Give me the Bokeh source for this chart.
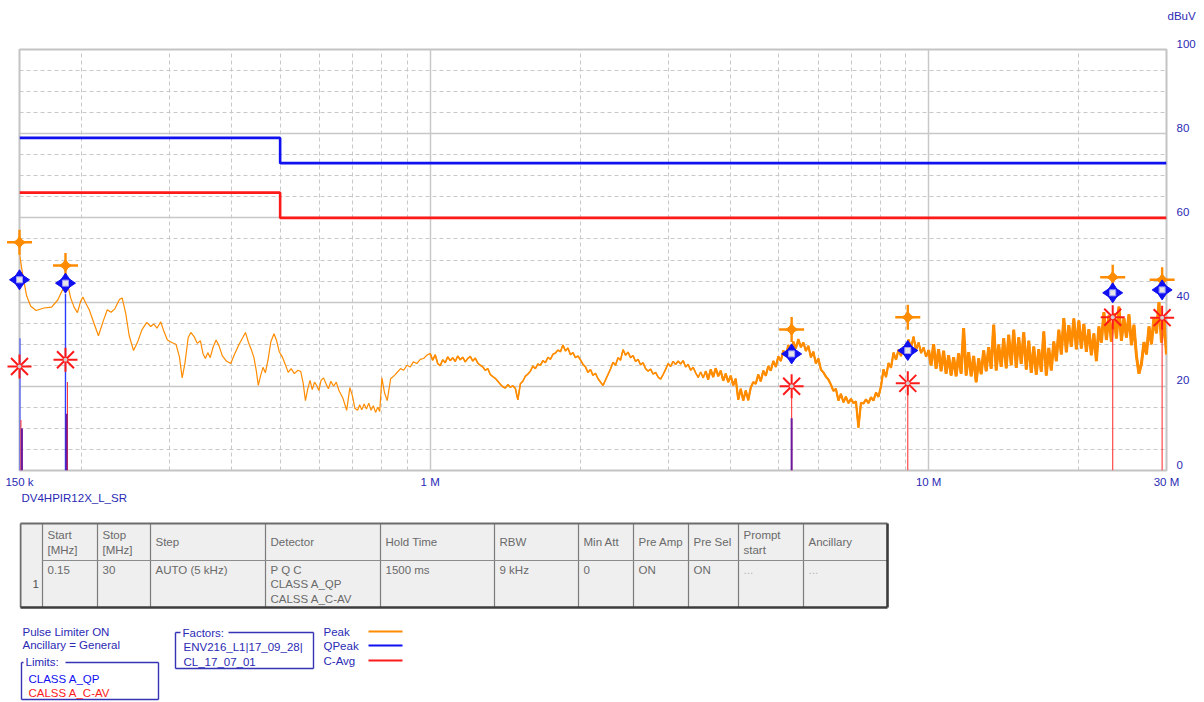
import numpy as np
from bokeh.plotting import figure
from bokeh.layouts import column
from bokeh.models import Range1d, FixedTicker
from bokeh.core.properties import value
from bokeh.embed import file_html
from bokeh.resources import INLINE

# ---------------- data ----------------
# Peak trace, 150 kHz .. 1 MHz (frequency in MHz, level in dBuV)
peak_lo_freq_mhz = [0.150, 0.152, 0.155, 0.158, 0.162, 0.168, 0.174, 0.179, 0.184, 0.187,
                    0.190, 0.193, 0.196, 0.199, 0.201, 0.204, 0.207, 0.211, 0.216, 0.221,
                    0.225, 0.229, 0.233, 0.238, 0.241, 0.245, 0.249, 0.254, 0.259, 0.264,
                    0.270, 0.275, 0.279, 0.283, 0.288, 0.292, 0.297, 0.303, 0.309, 0.314,
                    0.318, 0.322, 0.327, 0.331, 0.336, 0.341, 0.346, 0.350, 0.354, 0.358,
                    0.362, 0.367, 0.372, 0.377, 0.383, 0.390, 0.398, 0.405, 0.413, 0.420,
                    0.426, 0.432, 0.438, 0.443, 0.448, 0.452, 0.457, 0.462, 0.467, 0.473,
                    0.479, 0.486, 0.492, 0.498, 0.505, 0.512, 0.519, 0.526, 0.534, 0.543,
                    0.550, 0.556, 0.562, 0.568, 0.574, 0.580, 0.586, 0.592, 0.598, 0.604,
                    0.611, 0.618, 0.625, 0.632, 0.640, 0.648, 0.656, 0.668, 0.680, 0.690,
                    0.698, 0.706, 0.715, 0.722, 0.729, 0.737, 0.745, 0.753, 0.761, 0.769,
                    0.777, 0.785, 0.792, 0.800, 0.810, 0.820, 0.833, 0.848, 0.860, 0.872,
                    0.885, 0.898, 0.912, 0.925, 0.940, 0.955, 0.970, 0.985]
peak_lo_dbuv = [51.5, 47.0, 41.5, 39.0, 38.0, 38.6, 38.8, 40.5, 43.5, 44.6,
                41.0, 38.8, 37.5, 40.2, 41.2, 39.6, 38.2, 35.4, 32.0, 35.6,
                38.2, 37.6, 38.4, 40.6, 41.0, 37.3, 32.0, 28.5, 30.6, 33.4,
                35.2, 34.2, 34.8, 33.8, 35.3, 33.2, 31.0, 30.4, 30.0, 27.0,
                22.0, 25.4, 31.6, 32.8, 31.8, 30.2, 30.8, 27.8, 26.6, 28.0,
                26.8, 29.4, 31.0, 29.6, 27.2, 26.0, 25.4, 27.6, 29.8, 31.4,
                32.8, 30.4, 28.6, 26.8, 23.6, 20.2, 22.6, 24.5, 23.2, 26.4,
                30.6, 32.5, 30.8, 28.2, 27.0, 25.2, 23.3, 24.2, 23.0, 23.8,
                23.5, 20.8, 16.6, 19.4, 21.4, 19.2, 21.0, 20.2, 19.0, 21.4,
                22.0, 20.6, 19.4, 21.2, 20.0, 21.0, 19.0, 17.2, 14.3, 19.7,
                17.8, 14.8, 14.3, 15.6, 14.4, 15.8, 14.6, 16.0, 14.3, 15.4,
                13.8, 15.0, 14.0, 22.0, 18.4, 16.6, 21.8, 22.6, 23.4, 24.2,
                23.8, 25.0, 24.6, 25.8, 25.4, 26.4, 26.6, 27.4]
# Peak trace, 1 MHz .. 30 MHz sweep points (log-uniform steps), level in dBuV
peak_hi_dbuv = [27.8, 26.2, 27.5, 25.4, 24.9, 26.3, 25.6, 27.0, 26.1, 26.8,
                25.9, 27.2, 26.3, 26.9, 25.8, 26.6, 27.1, 26.0, 26.7, 25.5,
                25.0, 24.6, 23.8, 24.2, 22.8, 22.3, 21.9, 21.2, 20.5, 19.9,
                19.6, 20.4, 19.8, 20.1, 19.5, 16.8, 20.6, 21.2, 22.4, 22.9,
                23.6, 24.8, 24.2, 25.3, 25.0, 26.1, 25.6, 26.9, 26.4, 27.6,
                27.9, 28.6, 28.2, 29.8, 28.4, 29.1, 27.5, 28.0, 26.8, 27.2,
                26.3, 25.2, 24.6, 23.3, 24.0, 22.6, 23.1, 21.8, 21.0, 20.2,
                21.5, 22.8, 24.1, 25.7, 25.0, 26.8, 26.2, 28.7, 27.4, 28.1,
                26.8, 27.3, 25.9, 26.4, 25.1, 25.6, 24.2, 23.6, 24.1, 22.9,
                23.3, 22.2, 21.7, 22.8, 24.0, 25.4, 24.7, 25.9, 25.2, 26.0,
                25.3, 26.1, 24.6, 25.2, 23.8, 24.5, 23.2, 22.1, 23.4, 22.0,
                23.6, 21.6, 24.0, 22.2, 24.3, 22.4, 23.7, 21.3, 23.0, 21.0,
                22.5, 20.2, 21.8, 16.8, 19.4, 16.6, 19.0, 16.7, 19.7, 21.0,
                20.6, 22.8, 21.2, 23.7, 22.5, 24.8, 23.7, 26.0, 24.6, 27.1,
                26.0, 28.5, 27.3, 29.8, 28.2, 30.6, 29.0, 31.2, 29.3, 30.4,
                28.4, 29.6, 26.9, 28.2, 25.4, 26.6, 24.0, 23.3, 22.3, 21.6,
                20.4, 18.9, 19.4, 16.6, 18.2, 16.2, 17.5, 16.0, 17.0, 16.0,
                16.4, 10.2, 16.1, 15.9, 16.9, 16.0, 17.4, 16.6, 18.5, 17.5,
                20.0, 24.0, 22.2, 25.5, 24.4, 28.0, 26.3, 28.7, 27.2, 29.4,
                28.2, 31.1, 29.1, 31.8, 28.6, 30.4, 27.9, 29.2, 27.0, 28.6,
                25.0, 30.0, 24.2, 28.8, 23.6, 28.4, 23.0, 27.4, 22.6, 26.9,
                22.4, 27.8, 23.0, 33.8, 22.6, 28.1, 22.4, 27.2, 21.0, 26.6,
                22.9, 28.5, 23.6, 29.3, 24.2, 34.6, 23.8, 29.9, 24.6, 31.4,
                24.3, 32.2, 25.0, 33.4, 24.4, 31.6, 25.3, 32.8, 24.0, 30.8,
                23.2, 29.4, 22.8, 28.8, 23.5, 33.0, 22.6, 29.1, 23.8, 30.6,
                26.0, 33.4, 27.6, 36.2, 28.1, 34.5, 29.4, 36.1, 28.8, 35.6,
                29.0, 34.8, 28.2, 33.6, 27.4, 32.5, 26.0, 34.2, 30.4, 37.6,
                31.0, 36.8, 30.6, 37.4, 31.4, 38.9, 30.8, 36.2, 31.6, 37.1,
                29.8, 34.6, 27.2, 23.0, 25.4, 30.5, 27.6, 34.2, 30.0, 36.4,
                32.6, 40.0, 30.4, 36.2, 27.6]
peak_hi_start_mhz = 1.0
peak_hi_stop_mhz = 30.0

# Limit lines (step at 500 kHz)
limit_freq_mhz = [0.15, 0.5, 30.0]
qp_limit_dbuv = [79, 73, 73]
av_limit_dbuv = [66, 60, 60]

# Final measurement markers
final_freq_mhz = [0.150, 0.1855, 5.31, 9.08, 23.4, 29.4]
final_peak_dbuv = [54.2, 48.7, 33.5, 36.4, 45.9, 45.3]
final_qp_dbuv = [45.3, 44.5, 27.7, 28.5, 42.2, 42.9]
final_av_dbuv = [24.7, 26.3, 20.0, 20.7, 36.4, 36.3]

# Vertical result bars
qp_bar_freq_mhz = [0.1502, 0.1855]
qp_bar_dbuv = [31.4, 42.0]
av_bar_freq_mhz = [0.1510, 0.1872, 5.31, 9.08, 23.4, 29.4]
av_bar_dbuv = [12.0, 21.0, 20.0, 20.7, 36.4, 36.3]
dark_bar_freq_mhz = [0.1517, 0.1864, 5.31]
dark_bar_dbuv = [10.0, 13.5, 12.4]

# Axes
x_ticks = [0.15, 1, 10, 30]
x_tick_labels = ["150 k", "1 M", "10 M", "30 M"]
y_ticks = [0, 20, 40, 60, 80, 100]
y_unit = "dBuV"
trace_name = "DV4HPIR12X_L_SR"

# Settings table
table_headers = ["", "Start\n[MHz]", "Stop\n[MHz]", "Step", "Detector", "Hold Time", "RBW",
                 "Min Att", "Pre Amp", "Pre Sel", "Prompt\nstart", "Ancillary"]
table_row = ["1", "0.15", "30", "AUTO (5 kHz)", "P Q C\nCLASS A_QP\nCALSS A_C-AV", "1500 ms",
             "9 kHz", "0", "ON", "ON", "...", "..."]

# Info / legend block
info_lines = ["Pulse Limiter ON", "Ancillary = General"]
limits_title = "Limits:"
limits_entries = ["CLASS A_QP", "CALSS A_C-AV"]
factors_title = "Factors:"
factor_entries = ["ENV216_L1|17_09_28|", "CL_17_07_01"]
legend_names = ["Peak", "QPeak", "C-Avg"]

# ---------------- style ----------------
FONT = value("Liberation Sans")
ORANGE = "#ff8c00"
BLUE = "#1010f0"
RED = "#ff1a1a"
TXT_BLUE = "#2a2ab4"
GRID = "#c8c8c8"
FRAME_L, FRAME_W, BORDER_R = 19, 1147, 36

# ---------------- main chart ----------------
p = figure(frame_width=FRAME_W, frame_height=421, x_axis_type="log",
           x_range=Range1d(0.15, 30), y_range=Range1d(0, 100),
           y_axis_location=None, output_backend="svg", toolbar_location=None,
           min_border_left=FRAME_L, min_border_right=BORDER_R, min_border_top=49,
           min_border_bottom=22)
p.outline_line_color = "#c4c4c4"
p.outline_line_width = 2
p.background_fill_color = "white"

x_minor = [0.2, 0.3, 0.4, 0.5, 0.6, 0.7, 0.8, 0.9, 2, 3, 4, 5, 6, 7, 8, 9, 20]
p.xgrid.ticker = FixedTicker(ticks=[1, 10], minor_ticks=x_minor)
p.xgrid.grid_line_color = GRID
p.xgrid.grid_line_width = 1.5
p.xgrid.minor_grid_line_color = GRID
p.xgrid.minor_grid_line_dash = "4 3"
p.ygrid.ticker = FixedTicker(ticks=[20, 40, 60, 80],
                             minor_ticks=[v for v in range(5, 100, 5) if v % 20])
p.ygrid.grid_line_color = GRID
p.ygrid.grid_line_width = 1.5
p.ygrid.minor_grid_line_color = GRID
p.ygrid.minor_grid_line_dash = "4 3"

ax = p.xaxis[0]
ax.ticker = FixedTicker(ticks=x_ticks)
ax.major_label_overrides = {t: l for t, l in zip(x_ticks, x_tick_labels)}
ax.axis_line_color = None
ax.major_tick_line_color = None
ax.minor_tick_line_color = None
ax.major_tick_out = 0
ax.minor_tick_out = 0
ax.major_label_standoff = 5
ax.major_label_text_font = "Liberation Sans"
ax.major_label_text_font_size = "11.5px"
ax.major_label_text_color = TXT_BLUE

# y tick labels on the right (drawn slightly above their grid line)
p.text(x=[30] * len(y_ticks), y=y_ticks, text=[str(v) for v in y_ticks],
       x_offset=10, y_offset=-6, text_font=FONT, text_font_size="11.5px",
       text_color=TXT_BLUE, text_align="left", text_baseline="middle", level="overlay")
p.text(x=[30], y=[100], text=[y_unit], x_offset=1, y_offset=-34, text_font=FONT,
       text_font_size="11.5px", text_color=TXT_BLUE, text_align="left",
       text_baseline="middle", level="overlay")

# limits
p.step(limit_freq_mhz, qp_limit_dbuv, mode="after", line_color=BLUE, line_width=2.6)
p.step(limit_freq_mhz, av_limit_dbuv, mode="after", line_color=RED, line_width=2.6)

# peak trace (the dense sweep above ~3 MHz is drawn heavier, as in the receiver plot)
hi_freq = np.geomspace(peak_hi_start_mhz, peak_hi_stop_mhz, len(peak_hi_dbuv))
peak_freq = np.concatenate([peak_lo_freq_mhz, hi_freq])
peak_level = np.concatenate([peak_lo_dbuv, peak_hi_dbuv])
p.line(peak_freq, peak_level, line_color=ORANGE, line_width=1.2)
p.line(hi_freq, peak_hi_dbuv, line_color=ORANGE, line_width=1.6)
p.line(hi_freq[110:], peak_hi_dbuv[110:], line_color=ORANGE, line_width=2.2)
p.line(hi_freq[199:], peak_hi_dbuv[199:], line_color=ORANGE, line_width=3.0)

# vertical result bars
p.segment(x0=qp_bar_freq_mhz, y0=[0] * len(qp_bar_dbuv), x1=qp_bar_freq_mhz, y1=qp_bar_dbuv,
          line_color="#2a3cff", line_width=1.4)
p.segment(x0=av_bar_freq_mhz, y0=[0] * len(av_bar_dbuv), x1=av_bar_freq_mhz, y1=av_bar_dbuv,
          line_color="#ff3a3a", line_width=1.1)
p.segment(x0=dark_bar_freq_mhz, y0=[0] * len(dark_bar_dbuv), x1=dark_bar_freq_mhz, y1=dark_bar_dbuv,
          line_color="#6a1a9a", line_width=2)

# markers: peak (orange 4-point star)
p.scatter(final_freq_mhz, final_peak_dbuv, marker="cross", size=25, line_color=ORANGE,
          line_width=2.4, level="overlay")
p.scatter(final_freq_mhz, final_peak_dbuv, marker="diamond", size=12, fill_color=ORANGE,
          line_color=ORANGE, level="overlay")
p.scatter(final_freq_mhz, final_peak_dbuv, marker="diamond", size=12, angle=np.pi / 2,
          fill_color=ORANGE, line_color=ORANGE, level="overlay")
# markers: quasi-peak (blue compass)
p.scatter(final_freq_mhz, final_qp_dbuv, marker="diamond", size=20, fill_color=BLUE,
          line_color=BLUE, level="overlay")
p.scatter(final_freq_mhz, final_qp_dbuv, marker="diamond", size=20, angle=np.pi / 2,
          fill_color=BLUE, line_color=BLUE, level="overlay")
p.scatter(final_freq_mhz, final_qp_dbuv, marker="square", size=6, fill_color="#e6e6e6",
          line_color="#9a9aff", line_width=1, level="overlay")
# markers: C-average (red asterisk)
p.scatter(final_freq_mhz, final_av_dbuv, marker="asterisk", size=24, line_color=RED,
          line_width=2, level="overlay")
p.scatter(final_freq_mhz, final_av_dbuv, marker="circle", size=4, fill_color="#d0d0d0",
          line_color=None, level="overlay")

# ---------------- lower panel (table + info), coordinates in page pixels ----------------
TOP, BOT = 492, 702
q = figure(frame_width=FRAME_W, frame_height=BOT - TOP,
           x_range=Range1d(FRAME_L, FRAME_L + FRAME_W), y_range=Range1d(BOT, TOP),
           x_axis_location=None, y_axis_location=None, output_backend="svg",
           toolbar_location=None, min_border_left=FRAME_L, min_border_right=BORDER_R,
           min_border_top=0, min_border_bottom=0)
q.outline_line_color = None
q.grid.visible = False

def txt(xs, ys, texts, color, size="11.5px", align="left"):
    q.text(x=xs, y=ys, text=texts, text_font=FONT, text_font_size=size, text_color=color,
           text_align=align, text_baseline="middle")

txt([21], [497], [trace_name], TXT_BLUE)

# table
col_edges = [20, 42, 97, 150, 265, 380, 494, 578, 633, 688, 738, 803, 887]
t_top, t_mid, t_bot = 523, 560, 607
q.quad(left=[col_edges[0]], right=[col_edges[-1]], top=[t_top], bottom=[t_bot],
       fill_color="#efefef", line_color=None)
q.segment(x0=col_edges[1:-1], y0=[t_top] * (len(col_edges) - 2), x1=col_edges[1:-1],
          y1=[t_bot] * (len(col_edges) - 2), line_color="#7c7c7c", line_width=1.2)
q.segment(x0=[col_edges[1]], y0=[t_mid], x1=[col_edges[-1]], y1=[t_mid],
          line_color="#8c8c8c", line_width=1)
q.segment(x0=[col_edges[0], col_edges[0]], y0=[t_top, t_top], x1=[col_edges[-1], col_edges[0]],
          y1=[t_top, t_bot], line_color="#6c6c6c", line_width=2)
q.segment(x0=[col_edges[-1], col_edges[0]], y0=[t_top, t_bot], x1=[col_edges[-1], col_edges[-1]],
          y1=[t_bot, t_bot], line_color="#3c3c3c", line_width=2.6)

hx, hy, ht = [], [], []
for i, h in enumerate(table_headers):
    lines = h.split("\n") if h else []
    n = len(lines)
    for k, ln in enumerate(lines):
        hx.append(col_edges[i] + 5)
        hy.append((t_top + t_mid) / 2 - 7.5 * (n - 1) + 15 * k)
        ht.append(ln)
txt(hx, hy, ht, "#6a6a6a", size="11.5px")

rx, ry, rt, rc = [], [], [], []
for i, v in enumerate(table_row):
    if i == 0:
        rx.append(col_edges[0] + 12); ry.append((t_mid + t_bot) / 2); rt.append(v); rc.append("#505050")
        continue
    for k, ln in enumerate(v.split("\n")):
        rx.append(col_edges[i] + 5)
        ry.append(t_mid + 9 + 14.5 * k)
        rt.append(ln)
        rc.append("#b4b4b4" if ln == "..." else "#6a6a6a")
q.text(x=rx, y=ry, text=rt, text_color=rc, text_font=FONT, text_font_size="11.5px",
       text_align="left", text_baseline="middle")

# info lines
txt([22, 22], [631, 644], info_lines, TXT_BLUE)

# limits box
BOXC = "#3434b4"
lb = dict(l=21, r=158, t=662, b=699)
q.segment(x0=[lb["l"], 65, lb["l"], lb["r"], lb["l"]], y0=[lb["t"], lb["t"], lb["t"], lb["t"], lb["b"]],
          x1=[23, lb["r"], lb["l"], lb["r"], lb["r"]], y1=[lb["t"], lb["t"], lb["b"], lb["b"], lb["b"]],
          line_color=BOXC, line_width=1.4)
txt([25], [661], [limits_title], TXT_BLUE)
q.text(x=[28, 28], y=[678, 692], text=limits_entries, text_color=[BLUE, RED], text_font=FONT,
       text_font_size="11.5px", text_align="left", text_baseline="middle")

# factors box
fb = dict(l=175, r=313, t=632, b=668)
q.segment(x0=[fb["l"], 228, fb["l"], fb["r"], fb["l"]], y0=[fb["t"], fb["t"], fb["t"], fb["t"], fb["b"]],
          x1=[180, fb["r"], fb["l"], fb["r"], fb["r"]], y1=[fb["t"], fb["t"], fb["b"], fb["b"], fb["b"]],
          line_color=BOXC, line_width=1.4)
txt([182], [632], [factors_title], TXT_BLUE)
txt([183, 183], [646, 661], factor_entries, TXT_BLUE)

# legend
leg_y = [631, 645, 660]
txt([323] * 3, leg_y, legend_names, TXT_BLUE)
q.segment(x0=[368] * 3, y0=leg_y, x1=[402] * 3, y1=leg_y, line_color=[ORANGE, BLUE, RED],
          line_width=2)

layout = column(p, q, spacing=0)
open("out.html", "w").write(file_html(layout, INLINE))
